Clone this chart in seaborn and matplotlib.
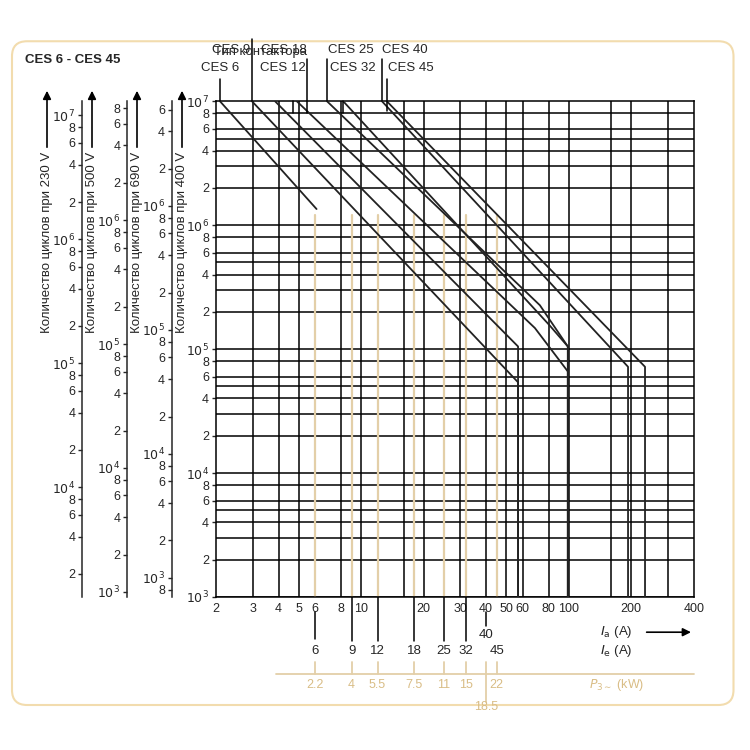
import matplotlib
matplotlib.use("Agg")
import matplotlib.pyplot as plt
import seaborn as sns
import numpy as np
from matplotlib.patches import FancyBboxPatch
from matplotlib.ticker import FixedLocator, FuncFormatter, NullLocator

sns.set_style("white")
plt.rcParams["font.family"] = ["Liberation Sans", "DejaVu Sans"]

# ---- Data: contactor life curves (x = breaking current Ia, y = cycles at 400 V) ----
ces6_x = [2.09, 6.1]
ces6_y = [1e7, 1.35e6]
ces9_x = [2.98, 57, 57]
ces9_y = [1e7, 5.4e4, 1e3]
ces12_x = [3.85, 57, 57]
ces12_y = [1e7, 1.05e5, 1e3]
ces18_x = [4.9, 68.7, 99, 99]
ces18_y = [1e7, 1.48e5, 6.6e4, 1e3]
ces25_x = [6.85, 72.6, 99, 99]
ces25_y = [1e7, 2.26e5, 1.05e5, 1e3]
ces32_x = [8.2, 81, 99, 99]
ces32_y = [1e7, 1.55e5, 1.05e5, 1e3]
ces40_x = [12.6, 193, 193]
ces40_y = [1e7, 7.2e4, 1e3]
ces45_x = [13.3, 233, 233]
ces45_y = [1e7, 7.2e4, 1e3]

# rated current Ie and motor power P
ie_values = [6, 9, 12, 18, 25, 32, 45]
ie_labels = ["6", "9", "12", "18", "25", "32", "45"]
p_labels = ["2.2", "4", "5.5", "7.5", "11", "15", "22"]

x_ticks = [2, 3, 4, 5, 6, 8, 10, 20, 30, 40, 50, 60, 80, 100, 200, 400]
x_grid = [3, 4, 5, 8, 10, 16, 20, 30, 40, 50, 60, 80, 100, 160, 200, 300]
y_grid_mult = [1, 2, 3, 4, 5, 6, 8]

# other voltage scales relative to 400 V
scale_230 = 1.3
scale_500 = 0.91
scale_690 = 0.70

TAN = "#e3cfa8"
TAN_TEXT = "#d9bd86"

fig = plt.figure(figsize=(7.5, 7.5), dpi=100)
frame = FancyBboxPatch((0.016, 0.06), 0.962, 0.885, boxstyle="round,pad=0,rounding_size=0.02",
                       transform=fig.transFigure, fc="none", ec="#f2dcae", lw=1.5, zorder=-5)
fig.patches.append(frame)
ax = fig.add_axes([0.288, 0.204, 0.637, 0.661])
ax.set_xscale("log")
ax.set_yscale("log")
ax.set_xlim(2, 400)
ax.set_ylim(1e3, 1e7)
ax.patch.set_alpha(0)

# grid
for k in range(3, 7):
    for m in y_grid_mult:
        ax.axhline(m * 10**k, color="black", lw=1.1, zorder=1)
for xv in x_grid:
    ax.axvline(xv, color="black", lw=1.1, zorder=1)
for xv in ie_values:
    ax.plot([xv, xv], [1e3, 1.2e6], color=TAN, lw=1.6, zorder=1.5)

curves = [(ces6_x, ces6_y), (ces9_x, ces9_y), (ces12_x, ces12_y), (ces18_x, ces18_y),
          (ces25_x, ces25_y), (ces32_x, ces32_y), (ces40_x, ces40_y), (ces45_x, ces45_y)]
for cx, cy in curves:
    sns.lineplot(x=cx, y=cy, sort=False, estimator=None, color="#222222", lw=1.3, ax=ax, zorder=3)

for s in ax.spines.values():
    s.set_color("black")
    s.set_linewidth(1.1)

ax.xaxis.set_major_locator(FixedLocator(x_ticks))
ax.xaxis.set_minor_locator(NullLocator())
ax.set_xticklabels([str(t) for t in x_ticks])
ax.tick_params(axis="x", length=0, pad=4, labelsize=9)


def log_fmt(v, pos):
    e = int(np.floor(np.log10(v) + 1e-9))
    m = v / 10**e
    if abs(m - 1) < 1e-6:
        return r"$10^{%d}$" % e
    return "%d" % round(m)


def style_y(a, lo, hi):
    ticks = [m * 10**k for k in range(2, 8) for m in [1, 2, 4, 6, 8] if lo * 0.999 <= m * 10**k <= hi * 1.001]
    a.yaxis.set_major_locator(FixedLocator(ticks))
    a.yaxis.set_minor_locator(NullLocator())
    a.yaxis.set_major_formatter(FuncFormatter(log_fmt))
    a.tick_params(axis="y", which="major", direction="out", length=3, width=1, pad=2, labelsize=9, left=True)


style_y(ax, 1e3, 1e7)

for fac, off in [(scale_690, -0.092), (scale_500, -0.186), (scale_230, -0.280)]:
    tw = ax.twinx()
    tw.set_yscale("log")
    tw.set_ylim(1e3 * fac, 1e7 * fac)
    for nm in ["top", "bottom", "right"]:
        tw.spines[nm].set_visible(False)
    tw.spines["left"].set_visible(True)
    tw.spines["left"].set_position(("axes", off))
    tw.spines["left"].set_linewidth(1.1)
    tw.yaxis.set_ticks_position("left")
    style_y(tw, 1e3 * fac, 1e7 * fac)


def fx(px):
    return px / 750


def fy(py):
    return 1 - py / 750


# axis titles with arrows
for px, txt in [(47, "Количество циклов при 230 V"), (92, "Количество циклов при 500 V"),
                (137, "Количество циклов при 690 V"), (182, "Количество циклов при 400 V")]:
    fig.text(fx(px), fy(152), txt, rotation=90, ha="center", va="top", fontsize=9.5)
    ax.annotate("", xy=(fx(px), fy(88)), xytext=(fx(px), fy(150)), xycoords="figure fraction",
                arrowprops=dict(arrowstyle="-|>", color="black", lw=1.2, mutation_scale=12))

fig.text(fx(25), fy(60), "CES 6 - CES 45", fontsize=9.5, fontweight="bold", va="center")
fig.text(fx(214), fy(52), "Тип контактора", fontsize=9.5, va="center")

# contactor labels and leaders (in data coords above the plot)
ax.text(2.94, 2.6e7, "CES 9", ha="right", va="center", fontsize=9.5)
ax.text(5.45, 2.6e7, "CES 18", ha="right", va="center", fontsize=9.5)
ax.text(6.9, 2.6e7, "CES 25", ha="left", va="center", fontsize=9.5)
ax.text(12.6, 2.6e7, "CES 40", ha="left", va="center", fontsize=9.5)
ax.text(2.09, 1.87e7, "CES 6", ha="center", va="center", fontsize=9.5)
ax.text(4.2, 1.87e7, "CES 12", ha="center", va="center", fontsize=9.5)
ax.text(7.05, 1.87e7, "CES 32", ha="left", va="center", fontsize=9.5)
ax.text(13.4, 1.87e7, "CES 45", ha="left", va="center", fontsize=9.5)
for xv, y0, y1 in [(2.09, 1.5e7, 1e7), (2.98, 3.2e7, 1e7), (5.5, 2.2e7, 8e6), (4.7, 1e7, 8e6),
                   (6.85, 2.2e7, 1e7), (8.2, 1e7, 8e6), (12.6, 2.2e7, 1e7), (13.3, 1.5e7, 8.3e6)]:
    ax.plot([xv, xv], [y0, y1], color="black", lw=1.1, clip_on=False, zorder=4)

# bottom scales: Ie and P
for xv in ie_values[1:6]:
    ax.plot([xv, xv], [1e3, 4.4e2], color="black", lw=1.1, clip_on=False)
ax.plot([6, 6], [7.6e2, 4.6e2], color="black", lw=1.1, clip_on=False)
ax.plot([40, 40], [7.6e2, 5.8e2], color="black", lw=1.1, clip_on=False)
ax.text(40, 4.9e2, "40", ha="center", va="center", fontsize=9.5)
for xv, il, pl in zip(ie_values, ie_labels, p_labels):
    ax.text(xv, 3.7e2, il, ha="center", va="center", fontsize=9.5)
    ax.plot([xv, xv], [3.0e2, 2.4e2], color=TAN, lw=1.3, clip_on=False)
    ax.text(xv, 1.95e2, pl, ha="center", va="center", fontsize=9, color=TAN_TEXT)
ax.plot([40, 40], [3.0e2, 1.42e2], color=TAN, lw=1.3, clip_on=False)
ax.text(40, 1.3e2, "18.5", ha="center", va="center", fontsize=9, color=TAN_TEXT)
ax.plot([3.9, 400], [2.4e2, 2.4e2], color=TAN, lw=1.3, clip_on=False)
ax.text(170, 1.95e2, r"$P_{3\sim}$ (kW)", ha="center", va="center", fontsize=9, color=TAN_TEXT)
ax.text(170, 5.2e2, r"$I_\mathrm{a}$ (A)", ha="center", va="center", fontsize=9.5)
ax.text(170, 3.7e2, r"$I_\mathrm{e}$ (A)", ha="center", va="center", fontsize=9.5)
ax.annotate("", xy=(400, 5.2e2), xytext=(230, 5.2e2), xycoords="data",
            arrowprops=dict(arrowstyle="-|>", color="black", lw=1.2, mutation_scale=12), annotation_clip=False)

fig.savefig("out.png", dpi=100, facecolor="white")
